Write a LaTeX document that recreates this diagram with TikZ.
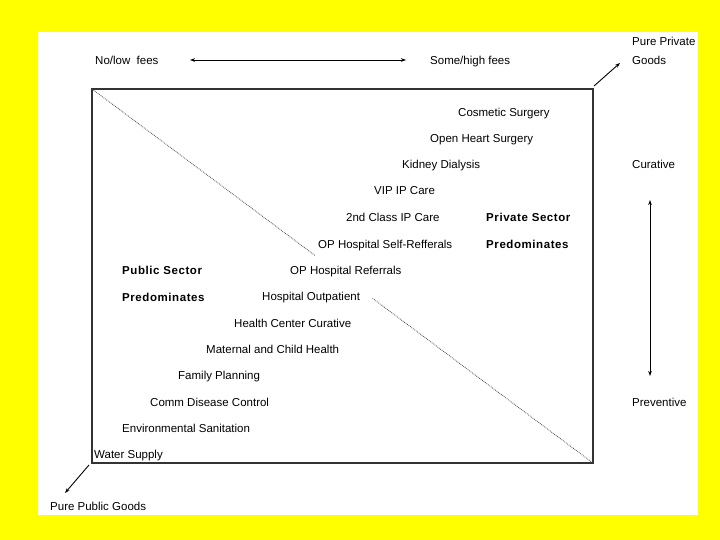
\documentclass[tikz,border=0pt]{standalone}
\usepackage{fontspec}
\setmainfont{Liberation Sans}
\usetikzlibrary{arrows.meta,calc}
\definecolor{bgyellow}{HTML}{FFFF00}
\definecolor{boxline}{HTML}{333333}
\begin{document}
\begin{tikzpicture}[x=1pt,y=-1pt,
  lbl/.style={anchor=base west,inner sep=0pt,font=\fontsize{11.5}{13}\selectfont},
  blbl/.style={lbl,font=\fontsize{11.5}{13}\selectfont\bfseries\addfontfeature{LetterSpace=5}},
  arr/.style={draw=black,line width=0.9pt,-{Stealth[length=5pt,width=3.6pt]}},
  darr/.style={draw=black,line width=0.9pt,{Stealth[length=5pt,width=3.6pt]}-{Stealth[length=5pt,width=3.6pt]}},
  diag/.style={draw=black!70,line width=0.8pt,densely dotted}]
\useasboundingbox (0,0) rectangle (720,540);
\fill[bgyellow] (0,0) rectangle (720,540);
\fill[white] (38,32) rectangle (698,515);
% main box
\draw[boxline,line width=1.3pt] (92,89) rectangle (593,463);
\coordinate (tl) at (92,89);
\coordinate (br) at (593,463);
\coordinate (d1) at ($(tl)!0.446!(br)$);
\coordinate (d2) at ($(tl)!0.56!(br)$);
\draw[diag] (tl) -- (d1);
\draw[diag] (d2) -- (br);
% top labels
\node[lbl] (nolow) at (95,65) {No/low\ \ fees};
\node[lbl] (somehigh) at (430,65) {Some/high fees};
\coordinate (fa) at (190,60);
\coordinate (fb) at (406,60);
\draw[darr] (fa) -- (fb);
\node[lbl] (pp1) at (632,46) {Pure Private};
\node[lbl] (pp2) at (632,65) {Goods};
\coordinate (ppa) at (594,86);
\coordinate (ppb) at (620,63);
\draw[arr] (ppa) -- (ppb);
% staircase
\node[lbl] (cs) at (458,116.5) {Cosmetic Surgery};
\node[lbl] (ohs) at (430,142.5) {Open Heart Surgery};
\node[lbl] (kd) at (402,168.5) {Kidney Dialysis};
\node[lbl] (vip) at (374,194.5) {VIP IP Care};
\node[lbl] (ipc) at (346,221.5) {2nd Class IP Care};
\node[lbl] (ops) at (318,248.5) {OP Hospital Self-Refferals};
\node[lbl] (opr) at (290,274.5) {OP Hospital Referrals};
\node[lbl] (hop) at (262,300.5) {Hospital Outpatient};
\node[lbl] (hcc) at (234,327.5) {Health Center Curative};
\node[lbl] (mch) at (206,353.5) {Maternal and Child Health};
\node[lbl] (fp) at (178,379.5) {Family Planning};
\node[lbl] (cdc) at (150,406.5) {Comm Disease Control};
\node[lbl] (es) at (122,432.5) {Environmental Sanitation};
\node[lbl] (ws) at (94,458.5) {Water Supply};
% sector labels
\node[blbl] (pub1) at (122,274.5) {Public Sector};
\node[blbl] (pub2) at (122,301.5) {Predominates};
\node[blbl] (pri1) at (486,221.5) {Private Sector};
\node[blbl] (pri2) at (486,248.5) {Predominates};
% right side
\node[lbl] (cur) at (632,168.5) {Curative};
\node[lbl] (prev) at (632,406.5) {Preventive};
\coordinate (va) at (650,200);
\coordinate (vb) at (650,376);
\draw[darr] (va) -- (vb);
% bottom left
\coordinate (pga) at (89,465);
\coordinate (pgb) at (65,493);
\draw[arr] (pga) -- (pgb);
\node[lbl] (ppg) at (50,510.5) {Pure Public Goods};
\end{tikzpicture}
\end{document}
